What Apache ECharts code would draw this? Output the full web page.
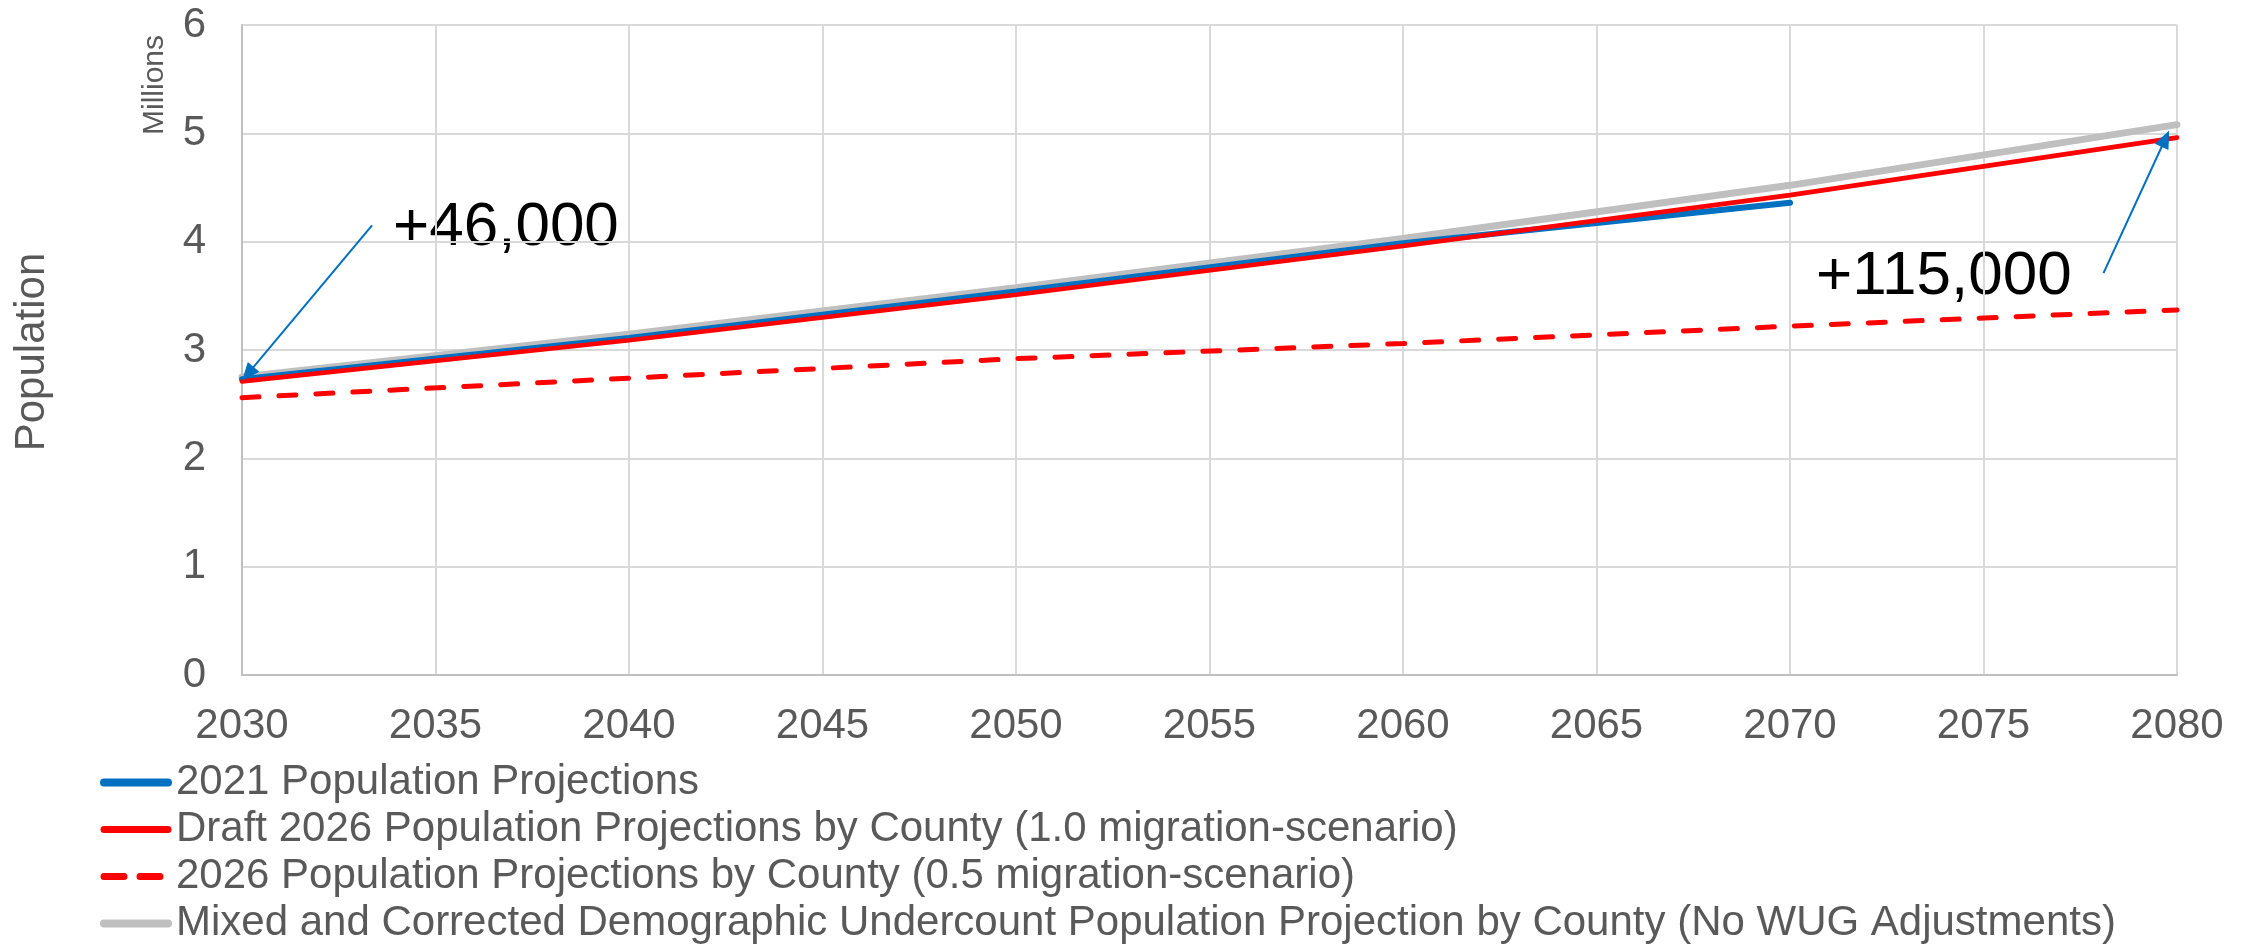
<!DOCTYPE html>
<html><head><meta charset="utf-8">
<script src="https://cdn.jsdelivr.net/npm/echarts@6/dist/echarts.min.js"></script>
<style>html,body{margin:0;padding:0;background:#fff}#c{width:2252px;height:946px}</style>
</head><body><div id="c"></div>
<script>
// ---- data ----
const years = [2030, 2040, 2050, 2060, 2070, 2080];
const proj2021 = [2.73, 3.11, 3.54, 3.985, 4.36];
const draft10 = [2.71, 3.09, 3.51, 3.96, 4.43, 4.96];
const mig05 = [2.56, 2.74, 2.92, 3.06, 3.22, 3.37];
const corrected = [2.75, 3.145, 3.575, 4.03, 4.52, 5.08];
const seriesNames = [
  '2021 Population Projections',
  'Draft 2026 Population Projections by County (1.0 migration-scenario)',
  '2026 Population Projections by County (0.5 migration-scenario)',
  'Mixed and Corrected Demographic Undercount Population Projection by County (No WUG Adjustments)'
];
const xMin = 2030, xMax = 2080, xStep = 5;
const yMin = 0, yMax = 6, yStep = 1;
const annoTexts = ['+46,000', '+115,000'];
// arrows in data space: [from, to]
const arrow1 = [[2033.36, 4.15], [2030.15, 2.78]];
const arrow2 = [[2078.1, 3.71], [2079.7, 4.95]];

const pairs = vals => vals.map((v, i) => [years[i], v]);
const FONT = '"Liberation Sans", Arial, sans-serif';
const GREY = '#595959';

const chart = echarts.init(document.getElementById('c'), null, {renderer: 'canvas'});
chart.setOption({
  animation: false,
  backgroundColor: '#fff',
  textStyle: {fontFamily: FONT},
  grid: {left: 242, right: 75, top: 25, bottom: 271, containLabel: false},
  xAxis: {
    type: 'value', min: xMin, max: xMax, interval: xStep,
    axisLine: {show: true, lineStyle: {color: '#BFBFBF', width: 2}},
    axisTick: {show: false},
    axisLabel: {fontSize: 42, color: GREY, fontFamily: FONT, margin: 30, formatter: v => String(v)},
    splitLine: {show: true, lineStyle: {color: '#D9D9D9', width: 2}}
  },
  yAxis: {
    type: 'value', min: yMin, max: yMax, interval: yStep,
    axisLine: {show: true, lineStyle: {color: '#BFBFBF', width: 2}},
    axisTick: {show: false},
    axisLabel: {fontSize: 42, color: GREY, fontFamily: FONT, margin: 36},
    splitLine: {show: true, lineStyle: {color: '#D9D9D9', width: 2}}
  },
  legend: {
    orient: 'vertical', left: 100, top: 759, height: 200, padding: 0, itemGap: 0,
    itemWidth: 64, itemHeight: 2,
    itemStyle: {opacity: 0},
    textStyle: {fontSize: 42, color: GREY, fontFamily: FONT, lineHeight: 47, padding: [0, 0, 0, 3]},
    data: [
      {name: seriesNames[0], lineStyle: {width: 8, color: '#0070C0', cap: 'round'}},
      {name: seriesNames[1], lineStyle: {width: 7, color: '#FF0000', cap: 'round'}},
      {name: seriesNames[2], lineStyle: {width: 7, color: '#FF0000', type: [20, 16], cap: 'round'}},
      {name: seriesNames[3], lineStyle: {width: 8, color: '#BFBFBF', cap: 'round'}}
    ]
  },
  series: [
    {name: seriesNames[3], type: 'line', data: pairs(corrected), symbol: 'none', z: 2,
     lineStyle: {color: '#BFBFBF', width: 7, cap: 'round'}, itemStyle: {color: '#BFBFBF'}},
    {name: seriesNames[0], type: 'line', data: pairs(proj2021), symbol: 'none', z: 3,
     lineStyle: {color: '#0070C0', width: 6, cap: 'round'}, itemStyle: {color: '#0070C0'}},
    {name: seriesNames[1], type: 'line', data: pairs(draft10), symbol: 'none', z: 4,
     lineStyle: {color: '#FF0000', width: 4.7, cap: 'round'}, itemStyle: {color: '#FF0000'},
     markLine: {
       silent: true, symbol: ['none', 'triangle'], symbolSize: [15, 18],
       label: {show: false},
       lineStyle: {color: '#0070C0', width: 2, type: 'solid'},
       itemStyle: {color: '#0070C0'},
       emphasis: {disabled: true},
       data: [
         [{coord: arrow1[0]}, {coord: arrow1[1]}],
         [{coord: arrow2[0]}, {coord: arrow2[1]}]
       ]
     }},
    {name: seriesNames[2], type: 'line', data: pairs(mig05), symbol: 'none', z: 4,
     lineStyle: {color: '#FF0000', width: 5, type: [17, 20], cap: 'round'}, itemStyle: {color: '#FF0000'}}
  ],
  graphic: [
    {type: 'text', x: 32, y: 352, rotation: Math.PI / 2,
     style: {text: 'Population', font: '42px ' + FONT, fill: GREY, textAlign: 'center', textVerticalAlign: 'middle'}},
    {type: 'text', x: 155, y: 85, rotation: Math.PI / 2,
     style: {text: 'Millions', font: '30px ' + FONT, fill: GREY, textAlign: 'center', textVerticalAlign: 'middle'}},
    {type: 'text', x: 393, y: 228,
     style: {text: annoTexts[0], font: '62px ' + FONT, fill: '#000', textAlign: 'left', textVerticalAlign: 'middle'}},
    {type: 'text', x: 1816, y: 277,
     style: {text: annoTexts[1], font: '62px ' + FONT, fill: '#000', textAlign: 'left', textVerticalAlign: 'middle'}}
  ]
});
</script>
</body></html>
